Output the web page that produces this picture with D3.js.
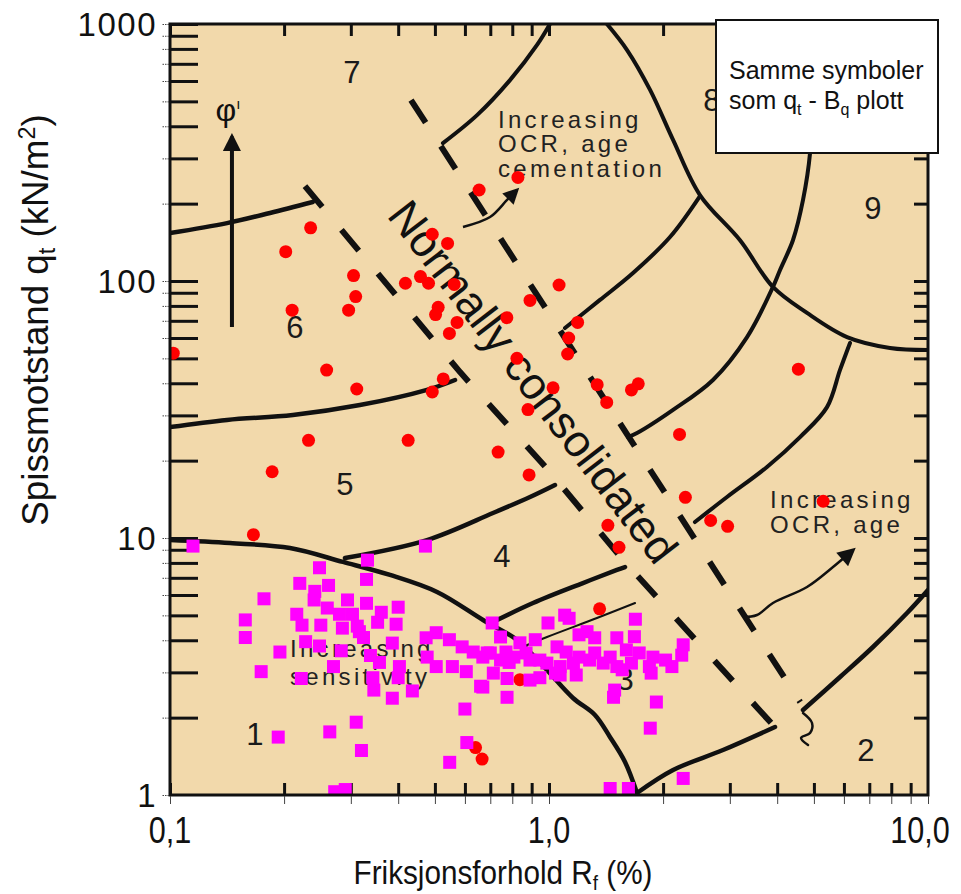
<!DOCTYPE html>
<html><head><meta charset="utf-8">
<script src="https://cdn.jsdelivr.net/npm/d3@7"></script>
<style>body{margin:0;background:#fff;} svg{display:block;} text{font-family:"Liberation Sans",Arial,Helvetica,sans-serif;}</style>
</head><body><svg id="c" width="961" height="894"></svg>
<script>
// ---------- data ----------
const rfTicks = [0.1, 1, 10];
const rfTickLabels = ["0,1", "1,0", "10,0"];
const qtTicks = [1, 10, 100, 1000];
const qtTickLabels = ["1", "10", "100", "1000"];

// red circles [Rf %, qt kN/m2]
const redPoints = [[0.102,52.4],[0.166,10.3],[0.186,18.1],[0.202,130],[0.21,77],[0.235,161],[0.232,24],[0.259,45],
 [0.296,77],[0.305,105],[0.309,87],[0.311,38],[0.418,98],[0.425,24],[0.458,104],[0.481,98],[0.492,152],[0.502,74],
 [0.51,79],[0.54,140],[0.546,62.5],[0.562,97],[0.572,69],[0.492,37],[0.526,41.6],[0.654,226],[0.828,253],[0.734,21.6],
 [0.774,72],[0.823,50],[0.88,31.6],[0.886,17.6],[0.891,84],[1.025,38.4],[1.063,96.5],[1.19,69],[1.127,60],[1.12,52],
 [1.34,39.5],[1.42,33.7],[1.65,37.7],[1.72,39.8],[2.21,25.3],[2.29,14.4],[2.67,11.7],[2.96,11.1],[1.43,11.2],[1.53,9.2],
 [1.36,5.3],[4.55,45.4],[5.29,13.9],[0.64,1.53],[0.666,1.38],[0.838,2.81]];

// magenta squares [Rf %, qt kN/m2]
const magentaPoints = [[0.115,9.3],[0.472,9.3],[0.248,7.66],[0.332,8.2],[0.22,6.66],[0.262,6.54],[0.33,6.9],[0.177,5.8],
 [0.241,6.2],[0.24,5.74],[0.294,5.74],[0.33,5.57],[0.4,5.38],[0.216,5.05],[0.26,5.34],[0.28,5.05],[0.303,5.05],[0.361,5.14],
 [0.223,4.58],[0.25,4.58],[0.285,4.46],[0.312,4.54],[0.353,4.7],[0.395,4.62],[0.158,4.8],[0.158,4.1],[0.228,3.95],[0.248,3.8],
 [0.316,4.32],[0.324,4.1],[0.386,3.9],[0.283,3.64],[0.195,3.6],[0.338,3.49],[0.357,3.28],[0.27,3.16],[0.403,3.16],[0.174,3.02],
 [0.222,2.84],[0.343,2.86],[0.4,2.86],[0.345,2.56],[0.436,2.54],[0.386,2.38],[0.31,1.92],[0.264,1.76],[0.193,1.68],[0.32,1.49],
 [0.272,1.03],[0.29,1.05],
 [0.474,4.09],[0.504,4.28],[0.546,4.02],[0.59,3.77],[0.631,3.6],[0.477,3.44],[0.504,3.16],[0.556,3.16],[0.605,3.02],[0.669,3.44],
 [0.708,4.67],[0.745,4.12],[0.7,3.57],[0.713,2.98],[0.77,3.6],[0.775,2.84],[0.785,3.28],[0.838,3.91],[0.87,3.57],[0.891,2.8],
 [0.92,4.02],[0.946,3.35],[0.994,4.67],[1.05,3.77],[1.04,2.98],[0.66,2.65],[0.775,2.4],[0.6,2.16],[0.607,1.6],[0.547,1.34],
 [1.1,5.01],[1.13,4.87],[1.69,4.83],[1.2,4.2],[1.26,4.32],[1.32,4.09],[1.51,4.09],[1.68,4.13],[2.26,3.84],[2.24,3.5],
 [1.11,3.6],[1.2,3.44],[1.32,3.57],[1.45,3.44],[1.6,3.67],[1.73,3.57],[1.88,3.44],[2.03,3.35],[2.11,3.16],
 [0.687,3.57],[0.745,3.35],[0.808,3.44],[0.891,3.35],[0.987,3.26],[1.07,3.16],[1.16,3.26],[1.28,3.35],[1.39,3.26],[1.51,3.16],
 [1.65,3.26],[1.84,3.16],[0.946,2.86],[1.07,2.93],[1.18,2.93],[1.56,3.07],[1.86,2.98],[0.669,2.63],[1.49,2.56],[1.48,2.4],
 [1.92,2.3],[1.85,1.82],[1.45,1.06],[1.62,1.06],[2.26,1.16]];

// background classification chart (Robertson), [Rf %, qt]
const boundary67 = [[0.1,153.7],[0.1414,168],[0.1836,184],[0.238,203]];
const boundary78 = [[0.525,344],[0.646,442],[0.789,605],[0.930,829],[1.006,1000]];
const boundary89 = [[1.422,1000],[1.607,792],[1.848,554],[2.125,354],[2.502,216],[3.192,144],[3.899,94.8],[4.795,75.1],[6.114,60.5],[7.937,54.9],[10,53.9]];
const boundaryD = [[1.102,65.6],[1.363,84.4],[1.666,107.4],[2.086,148.3],[2.502,214]];
const boundaryE = [[5.034,1000],[4.943,506],[4.884,314.8],[4.680,206.7],[4.404,144.4],[4.07,110.4],[3.899,94.8],[3.331,60.5],[2.708,41.2],[2.125,31.5],[1.707,25.6],[1.616,24.7]];
const boundaryG = [[6.226,57.4],[5.86,45.1],[5.414,32.3],[4.596,24.7],[3.760,18.9],[2.949,14.44],[2.427,11.54]];
const boundary56 = [[0.1,27.0],[0.1414,28.8],[0.211,30.1],[0.317,32.9],[0.4765,37.7],[0.565,41.2]];
const boundary45 = [[0.2895,8.36],[0.4765,9.82],[0.7115,12.51],[0.891,14.44],[1.037,16.08]];
const boundary34 = [[0.7115,4.71],[0.9075,5.585],[1.229,6.68],[1.511,7.51],[1.587,7.71]];
const thinLine3 = [[0.838,3.733],[0.988,4.12],[1.338,4.884],[1.687,5.585]];
const boundary1 = [[0.1,9.82],[0.144,9.56],[0.2073,9.14],[0.2861,8.07],[0.3806,7.18],[0.5065,6.165],[0.6697,4.797],[0.8232,4.01],[0.9759,3.12],[1.157,2.385],[1.322,2.048],[1.448,1.682],[1.587,1.344],[1.707,1.018]];
const boundary2a = [[1.707,1.018],[2.125,1.251],[2.878,1.496],[3.947,1.839]];
const boundary2b = [[4.680,2.142],[5.86,2.878],[7.158,3.766],[8.804,5.108],[10,6.276]];
const squiggle = [[4.680,2.085],[4.943,1.906],[4.884,1.742],[4.624,1.667],[4.825,1.565]];
const arrowOcrLow = [[3.251,4.927],[3.538,5.016],[3.899,5.585],[4.795,6.447],[5.615,7.71],[6.341,8.98]];
const arrowOcrHigh = [[0.593,162.3],[0.699,177.4],[0.775,206.7],[0.8232,226]];
const arrowPhi = [[0.1457,66.2],[0.1457,365]];
const ncLine1 = [[0.227,234],[0.5825,44.2],[1.006,18.06],[1.568,8.21],[4.12,1.712]];
const ncLine2 = [[0.4324,506],[4.6,2.30]];

const zoneLabels = ["1","2","3","4","5","6","7","8","9"];
const zoneRf = [0.1676,6.86,1.587,0.7516,0.2895,0.2137,0.302,2.692,7.158];
const zoneQt = [1.712,1.496,2.803,8.44,16.1,66.2,645,506,192];

// ---------- drawing ----------
const L = 170, R = 928, T = 24, B = 795;
const x = d3.scaleLog().domain([0.1, 10]).range([L, R]);
const y = d3.scaleLog().domain([1, 1000]).range([B, T]);
const svg = d3.select("#c");
const defs = svg.append("defs");
defs.append("clipPath").attr("id","clip").append("rect").attr("x",L).attr("y",T).attr("width",R-L).attr("height",B-T);
function mk(id, w, h){
  defs.append("marker").attr("id",id).attr("viewBox","0 0 10 10").attr("refX",8).attr("refY",5)
   .attr("markerUnits","userSpaceOnUse").attr("markerWidth",w).attr("markerHeight",h).attr("orient","auto")
   .append("path").attr("d","M0,0 L10,5 L0,10 Z").attr("fill","#111");
}
mk("ah1",18,16); mk("ah2",20,18); mk("ah3",22,18);

svg.append("rect").attr("x",L).attr("y",T).attr("width",R-L).attr("height",B-T).attr("fill","#F2D9AB");

const plot = svg.append("g").attr("clip-path","url(#clip)");
const line = d3.line().x(d=>x(d[0])).y(d=>y(d[1])).curve(d3.curveCatmullRom.alpha(0.5));
const lineLin = d3.line().x(d=>x(d[0])).y(d=>y(d[1]));

// inner (background) ticks
function innerAxis(axis, tr){
  const g = plot.append("g").attr("transform",tr).call(axis);
  g.select(".domain").remove();
  g.selectAll(".tick line").attr("stroke","#111").attr("stroke-width",3);
}
innerAxis(d3.axisRight(y).tickValues(y.ticks()).tickSize(28).tickFormat(""), `translate(${L},0)`);
innerAxis(d3.axisLeft(y).tickValues(y.ticks()).tickSize(14).tickFormat(""), `translate(${R},0)`);
innerAxis(d3.axisBottom(x).tickValues(x.ticks()).tickSize(12).tickFormat(""), `translate(0,${T})`);
innerAxis(d3.axisTop(x).tickValues(x.ticks()).tickSize(12).tickFormat(""), `translate(0,${B})`);

const curves = [
  [boundary67,4.5],[boundary78,4],[boundary89,4],[boundaryD,4],[boundaryE,4],[boundaryG,4],
  [boundary56,4.5],[boundary45,4.5],[boundary34,4.5],[thinLine3,2],[boundary1,4.5],[boundary2a,4.5],[boundary2b,4.5],[squiggle,2.5]
];
curves.forEach(([pts,w])=>{
  plot.append("path").attr("d",line(pts)).attr("fill","none").attr("stroke","#111").attr("stroke-width",w).attr("stroke-linecap","round");
});
plot.append("path").attr("d",line(arrowOcrLow)).attr("fill","none").attr("stroke","#111").attr("stroke-width",2.5).attr("marker-end","url(#ah2)");
plot.append("path").attr("d",line(arrowOcrHigh)).attr("fill","none").attr("stroke","#111").attr("stroke-width",2.5).attr("marker-end","url(#ah1)");
plot.append("path").attr("d",lineLin(arrowPhi)).attr("fill","none").attr("stroke","#111").attr("stroke-width",4).attr("marker-end","url(#ah3)");

plot.append("path").attr("d",lineLin(ncLine1)).attr("fill","none").attr("stroke","#111").attr("stroke-width",6).attr("stroke-dasharray","27 30");
plot.append("path").attr("d",lineLin(ncLine2)).attr("fill","none").attr("stroke","#111").attr("stroke-width",6).attr("stroke-dasharray","27 28");

// zone numbers
plot.selectAll("text.zone").data(zoneLabels).join("text").attr("class","zone")
  .attr("x",(d,i)=>x(zoneRf[i])).attr("y",(d,i)=>y(zoneQt[i])).attr("text-anchor","middle").attr("dominant-baseline","central")
  .attr("font-size",31).attr("fill","#1a1a1a").text(d=>d);

// annotations
function multi(lines, rf, qt, dy){
  const t = plot.append("text").attr("x",x(rf)).attr("y",y(qt)).attr("font-size",24).attr("letter-spacing","3.3px").attr("fill","#222");
  lines.forEach((s,i)=>t.append("tspan").attr("x",x(rf)).attr("dy",i?dy:0).text(s));
}
multi(["Increasing","OCR, age","cementation"], 0.7336, 393.9, 24.5);
multi(["Increasing","OCR, age"], 3.83, 13.08, 25);
multi(["Increasing","sensitivity"], 0.2073, 3.443, 28);
plot.append("text").attr("transform",`translate(${x(0.9075)},${y(40.5)}) rotate(52.5)`).attr("text-anchor","middle")
  .attr("dominant-baseline","central").attr("font-size",45).attr("fill","#111").text("Normally consolidated");
const phi = plot.append("text").attr("x",x(0.1457)-4).attr("y",y(420)).attr("text-anchor","middle").attr("font-size",32).attr("fill","#111");
phi.append("tspan").text("φ"); phi.append("tspan").attr("font-size",15).attr("dy",-12).text("ı");

// points
plot.selectAll("circle.r").data(redPoints).join("circle").attr("class","r")
  .attr("cx",d=>x(d[0])).attr("cy",d=>y(d[1])).attr("r",6.5).attr("fill","#FF0000");
plot.selectAll("rect.m").data(magentaPoints).join("rect").attr("class","m")
  .attr("x",d=>x(d[0])-6.5).attr("y",d=>y(d[1])-6.5).attr("width",13).attr("height",13).attr("fill","#FF00FF");

// frame
svg.append("rect").attr("x",L).attr("y",T).attr("width",R-L).attr("height",B-T).attr("fill","none").attr("stroke","#111").attr("stroke-width",3);

// outer ticks
const ol = svg.append("g").attr("transform",`translate(${L-1},0)`).call(d3.axisLeft(y).tickValues(y.ticks()).tickSize(7).tickFormat(""));
ol.select(".domain").remove(); ol.selectAll(".tick line").attr("stroke","#444").attr("stroke-dasharray","1.5 1");
const ob = svg.append("g").attr("transform",`translate(0,${B+1})`).call(d3.axisBottom(x).tickValues(x.ticks()).tickSize(8).tickFormat(""));
ob.select(".domain").remove(); ob.selectAll(".tick line").attr("stroke","#444");

// tick labels
svg.selectAll("text.yl").data(qtTicks).join("text").attr("class","yl")
  .attr("x",157).attr("y",d=>y(d)).attr("text-anchor","end").attr("dominant-baseline","central")
  .attr("font-size",33).attr("letter-spacing","1.5px").attr("fill","#111").text((d,i)=>qtTickLabels[i]);
svg.selectAll("text.xl").data(rfTicks).join("text").attr("class","xl")
  .attr("transform",d=>`translate(${Math.min(x(d), 920)},843) scale(0.9,1.08)`).attr("text-anchor","middle")
  .attr("font-size",34).attr("fill","#111").text((d,i)=>rfTickLabels[i]);

// axis titles
const xt = svg.append("text").attr("transform","translate(503,884) scale(0.9,1)").attr("text-anchor","middle").attr("font-size",33).attr("fill","#111");
xt.append("tspan").text("Friksjonsforhold R");
xt.append("tspan").attr("font-size",21).attr("dy",6).text("f");
xt.append("tspan").attr("dy",-6).text(" (%)");
const yt = svg.append("text").attr("transform","translate(48,320) rotate(-90) scale(1.02,1)").attr("text-anchor","middle").attr("font-size",36).attr("fill","#111");
yt.append("tspan").text("Spissmotstand q");
yt.append("tspan").attr("font-size",23).attr("dy",7).text("t");
yt.append("tspan").attr("dy",-7).text(" (kN/m");
yt.append("tspan").attr("font-size",23).attr("dy",-13).text("2");
yt.append("tspan").attr("dy",13).text(")");

// legend box
svg.append("rect").attr("x",716).attr("y",20).attr("width",222).attr("height",133).attr("fill","#fff").attr("stroke","#111").attr("stroke-width",2);
svg.append("text").attr("x",729).attr("y",79).attr("font-size",25).attr("fill","#111").text("Samme symboler");
const lt = svg.append("text").attr("x",729).attr("y",109).attr("font-size",25).attr("fill","#111");
lt.append("tspan").text("som q");
lt.append("tspan").attr("font-size",16).attr("dy",6).text("t");
lt.append("tspan").attr("dy",-6).text(" - B");
lt.append("tspan").attr("font-size",16).attr("dy",6).text("q");
lt.append("tspan").attr("dy",-6).text(" plott");
</script></body></html>
